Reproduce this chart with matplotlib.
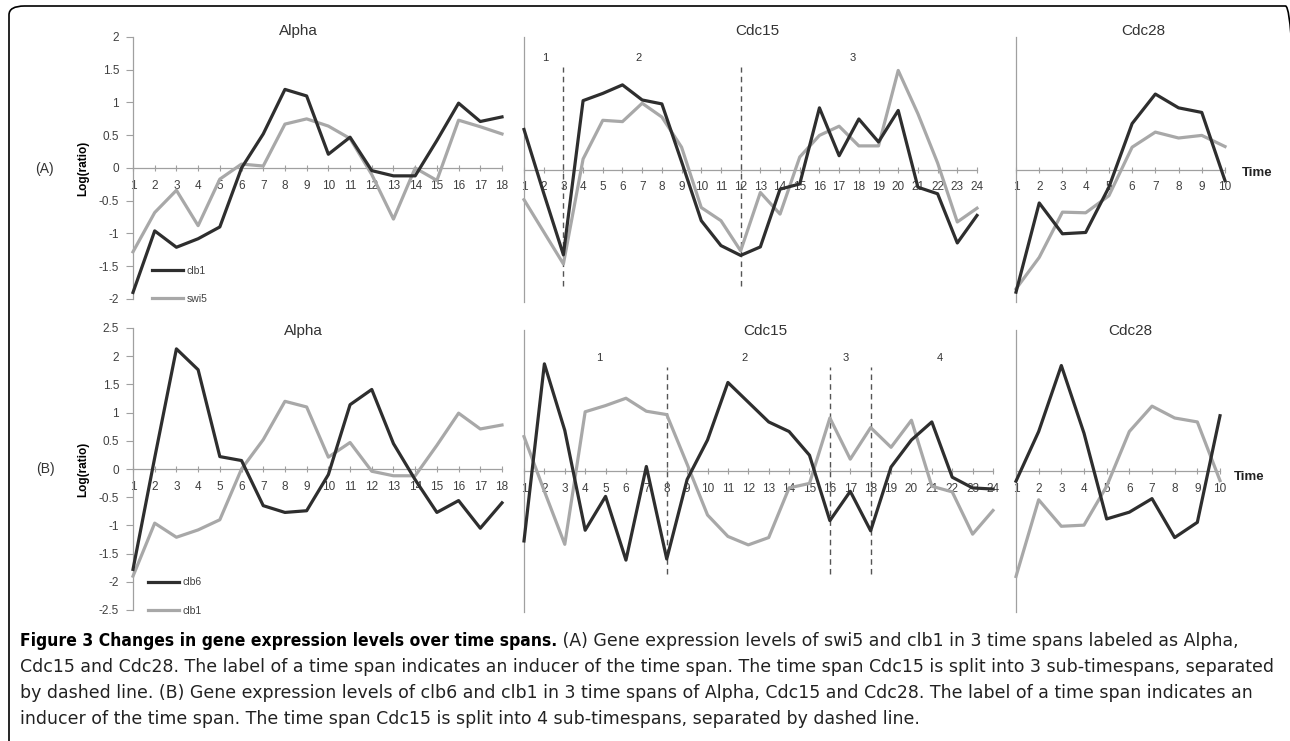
import matplotlib
matplotlib.use("Agg")
import matplotlib.pyplot as plt
from matplotlib.patches import FancyBboxPatch

# ── data ──────────────────────────────────────────────────────────────────────
alpha_t = list(range(1, 19))
cdc15_t = list(range(1, 25))
cdc28_t = list(range(1, 11))

clb1_alpha = [-1.9, -0.96, -1.21, -1.08, -0.9, 0.0, 0.52, 1.2, 1.1, 0.21,
              0.47, -0.04, -0.12, -0.12, 0.42, 0.99, 0.71, 0.78]
swi5_alpha = [-1.28, -0.68, -0.34, -0.88, -0.17, 0.06, 0.03, 0.67, 0.75, 0.64,
              0.45, -0.1, -0.78, 0.0, -0.19, 0.73, 0.63, 0.52]
clb6_alpha = [-1.78, 0.2, 2.13, 1.76, 0.22, 0.15, -0.65, -0.77, -0.74, -0.1,
              1.14, 1.41, 0.45, -0.19, -0.77, -0.56, -1.05, -0.6]

clb1_cdc15 = [0.61, -0.36, -1.3, 1.05, 1.16, 1.29, 1.06, 1.0, 0.12, -0.78,
              -1.16, -1.31, -1.18, -0.3, -0.22, 0.94, 0.21, 0.77, 0.42, 0.9,
              -0.27, -0.37, -1.12, -0.7]
swi5_cdc15 = [-0.46, -0.95, -1.44, 0.16, 0.75, 0.73, 1.01, 0.8, 0.34, -0.58,
              -0.78, -1.24, -0.35, -0.68, 0.19, 0.52, 0.66, 0.36, 0.36, 1.51,
              0.85, 0.1, -0.8, -0.59]
clb6_cdc15 = [-1.24, 1.9, 0.72, -1.05, -0.45, -1.58, 0.08, -1.56, -0.15, 0.55,
              1.57, 1.22, 0.87, 0.7, 0.28, -0.88, -0.36, -1.06, 0.07, 0.55,
              0.87, -0.11, -0.3, -0.32]

clb1_cdc28 = [-1.87, -0.51, -0.98, -0.96, -0.27, 0.7, 1.15, 0.94, 0.87, -0.17]
swi5_cdc28 = [-1.82, -1.34, -0.65, -0.66, -0.4, 0.34, 0.57, 0.48, 0.52, 0.35]
clb6_cdc28 = [-0.18, 0.7, 1.87, 0.67, -0.85, -0.73, -0.49, -1.18, -0.91, 0.98]

# sub-timespan boundaries of Cdc15 and where their numbers sit
splits_a = [3, 12]
span_lbl_a = ["1", "2", "3"]
span_x_a = [2.1, 6.8, 17.7]
splits_b = [8, 16, 18]
span_lbl_b = ["1", "2", "3", "4"]
span_x_b = [4.7, 11.8, 16.8, 21.4]

yticks_a = [-2, -1.5, -1, -0.5, 0, 0.5, 1, 1.5, 2]
yticks_b = [-2.5, -2, -1.5, -1, -0.5, 0, 0.5, 1, 1.5, 2, 2.5]

caption_bold = "Figure 3 Changes in gene expression levels over time spans."
caption_lines = [
    " (A) Gene expression levels of swi5 and clb1 in 3 time spans labeled as Alpha,",
    "Cdc15 and Cdc28. The label of a time span indicates an inducer of the time span. The time span Cdc15 is split into 3 sub-timespans, separated",
    "by dashed line. (B) Gene expression levels of clb6 and clb1 in 3 time spans of Alpha, Cdc15 and Cdc28. The label of a time span indicates an",
    "inducer of the time span. The time span Cdc15 is split into 4 sub-timespans, separated by dashed line.",
]

# ── style ─────────────────────────────────────────────────────────────────────
W, H, DPI = 1290, 741, 100
DARK = "#2e2e2e"
GREY = "#a8a8a8"
AXIS = "#a0a0a0"
TXT = "#404040"
plt.rcParams["font.family"] = ["Liberation Sans", "DejaVu Sans"]


def px_axes(fig, x0, x1, ytop, ybot):
    return fig.add_axes([x0 / W, 1 - ybot / H, (x1 - x0) / W, (ybot - ytop) / H])


def panel(ax, t, series, ylim, title, title_xy, yticks=None):
    for vals, color in series:
        ax.plot(t, vals, color=color, lw=2.3, clip_on=False, zorder=3)
    ax.set_xlim(t[0], t[-1])
    ax.set_ylim(*ylim)
    ax.patch.set_visible(False)
    for s in ["top", "right"]:
        ax.spines[s].set_visible(False)
    ax.spines["bottom"].set_position(("data", 0))
    for s in ["left", "bottom"]:
        ax.spines[s].set_color(AXIS)
        ax.spines[s].set_linewidth(0.9)
    ax.set_xticks(t)
    ax.set_xticklabels([str(v) for v in t])
    ax.tick_params(axis="x", direction="inout", length=5, color=AXIS,
                   labelsize=8.5, labelcolor=TXT, pad=6)
    if yticks is None:
        ax.set_yticks([])
    else:
        ax.set_yticks(yticks)
        ax.set_yticklabels([f"{v:g}" for v in yticks])
        ax.tick_params(axis="y", direction="out", length=5, color=AXIS,
                       labelsize=8.5, labelcolor=TXT, pad=5)
    ax.text(*title_xy, title, transform=ax.transAxes, ha="center", va="center",
            fontsize=11, color="#333333")


def splits(ax, bounds, lbls, lbl_x, ymin, ymax, lbl_y):
    for b in bounds:
        ax.axvline(b, ymin=ymin, ymax=ymax, color="#555555", lw=1,
                   dashes=(4, 3), zorder=2)
    for s, x in zip(lbls, lbl_x):
        ax.text(x, lbl_y, s, transform=ax.get_xaxis_transform(),
                ha="center", va="center", fontsize=8, color="#333333")


def legend(ax, labels, x, y):
    ax.legend(ax.lines[::-1], labels, loc="lower left",
              bbox_to_anchor=(x, y), frameon=False, fontsize=7.5,
              handlelength=3.0, handletextpad=0.3, labelspacing=1.75,
              borderaxespad=0, labelcolor=TXT)


fig = plt.figure(figsize=(W / DPI, H / DPI), dpi=DPI)

# frame round the whole figure (partly cut off, as in the source)
fig.patches.append(FancyBboxPatch((9 / W, 1 - 752 / H), 1292 / W, 746 / H,
                                  boxstyle="round,pad=0,rounding_size=0.012",
                                  transform=fig.transFigure, fill=False,
                                  ec="black", lw=1.2))

# ── row A ─────────────────────────────────────────────────────────────────────
ax = px_axes(fig, 133, 502, 37, 299)
panel(ax, alpha_t, [(swi5_alpha, GREY), (clb1_alpha, DARK)], (-2, 2),
      "Alpha", (0.447, 1.023), yticks_a)
legend(ax, ["clb1", "swi5"], 0.04, -0.035)
ax.set_ylabel("Log(ratio)", fontsize=8.5, fontweight="bold", labelpad=7)

ax = px_axes(fig, 524, 977, 37, 302)
panel(ax, cdc15_t, [(swi5_cdc15, GREY), (clb1_cdc15, DARK)], (-2.02, 2.02),
      "Cdc15", (0.514, 1.023))
splits(ax, splits_a, span_lbl_a, span_x_a, 0.06, 0.885, 0.92)

ax = px_axes(fig, 1016, 1225, 37, 302)
panel(ax, cdc28_t, [(swi5_cdc28, GREY), (clb1_cdc28, DARK)], (-2.02, 2.02),
      "Cdc28", (0.608, 1.023))
ax.text(1.08, -0.05, "Time", transform=ax.get_yaxis_transform(),
        fontsize=9.5, fontweight="bold", color="#222222", va="center")

# ── row B ─────────────────────────────────────────────────────────────────────
ax = px_axes(fig, 133, 502, 328, 610)
panel(ax, alpha_t, [(clb1_alpha, GREY), (clb6_alpha, DARK)], (-2.5, 2.5),
      "Alpha", (0.463, 0.989), yticks_b)
legend(ax, ["clb6", "clb1"], 0.03, -0.035)
ax.set_ylabel("Log(ratio)", fontsize=8.5, fontweight="bold", labelpad=7)

ax = px_axes(fig, 524, 993, 330, 612)
panel(ax, cdc15_t, [(clb1_cdc15, GREY), (clb6_cdc15, DARK)], (-2.5, 2.5),
      "Cdc15", (0.514, 0.996))
splits(ax, splits_b, span_lbl_b, span_x_b, 0.135, 0.869, 0.9)

ax = px_axes(fig, 1016, 1220, 330, 612)
panel(ax, cdc28_t, [(clb1_cdc28, GREY), (clb6_cdc28, DARK)], (-2.5, 2.5),
      "Cdc28", (0.559, 0.996))
ax.text(1.07, -0.1, "Time", transform=ax.get_yaxis_transform(),
        fontsize=9.5, fontweight="bold", color="#222222", va="center")

fig.text(44 / W, 1 - 169 / H, "(A)", fontsize=10, color="#333333", ha="center", va="center")
fig.text(45 / W, 1 - 469 / H, "(B)", fontsize=10, color="#333333", ha="center", va="center")

# ── caption ───────────────────────────────────────────────────────────────────
cap_size = 12.5
ys = [641, 667, 693, 719]
bold = fig.text(20 / W, 1 - ys[0] / H, caption_bold, fontsize=cap_size,
                fontweight="bold", fontstretch="condensed", va="center",
                color="black", family="DejaVu Sans")
fig.add_artist(matplotlib.text.Annotation(
    caption_lines[0], xy=(1, 0.5), xycoords=bold, va="center",
    fontsize=cap_size, family="DejaVu Sans", color="#222222",
    annotation_clip=False))
for line, y in zip(caption_lines[1:], ys[1:]):
    fig.text(20 / W, 1 - y / H, line, fontsize=cap_size, family="DejaVu Sans",
             va="center", color="#222222")

fig.savefig("out.png", dpi=DPI)
